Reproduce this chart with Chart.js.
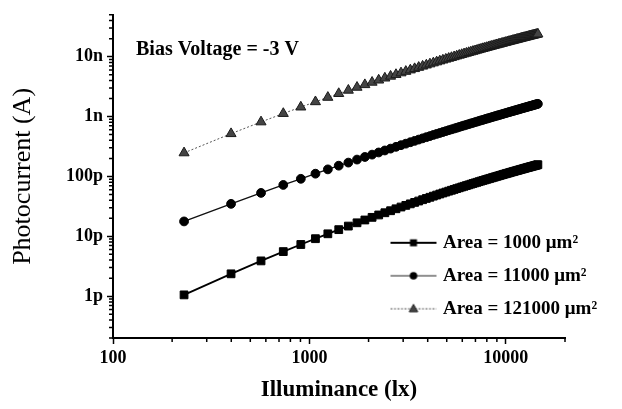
<!DOCTYPE html>
<html>
<head>
<meta charset="utf-8">
<script src="https://cdn.jsdelivr.net/npm/chart.js@4.4.1/dist/chart.umd.min.js"></script>
<style>
  body { margin: 0; background: #fff; }
  canvas { display: block; }
</style>
</head>
<body>
<canvas id="chart" width="622" height="409"></canvas>
<script>
// illuminance steps (lx)
const illuminance = [230, 399, 567, 736, 904, 1073, 1241, 1410, 1578, 1747, 1915, 2084, 2252, 2421, 2589,
  2758, 2926, 3095, 3263, 3432, 3600, 3769, 3937, 4106, 4274, 4443, 4611, 4780, 4948, 5117, 5285, 5454,
  5622, 5791, 5959, 6128, 6296, 6465, 6633, 6802, 6970, 7139, 7307, 7476, 7644, 7813, 7981, 8150, 8318,
  8487, 8655, 8824, 8992, 9161, 9329, 9498, 9666, 9835, 10003, 10172, 10340, 10509, 10677, 10846, 11014,
  11183, 11351, 11520, 11688, 11857, 12025, 12194, 12362, 12531, 12699, 12868, 13036, 13205, 13373, 13542,
  13710, 13879, 14047, 14216, 14384, 14553];

// photocurrent in pA, one list per diode area
const currentArea1000 = [1.05, 2.36, 3.88, 5.55, 7.29, 9.11, 11.0, 12.9, 14.8, 16.8, 18.7, 20.7, 22.7, 24.7,
  26.7, 28.8, 30.8, 32.8, 34.8, 36.8, 38.8, 40.8, 42.8, 44.8, 46.8, 48.8, 50.8, 52.8, 54.7, 56.7, 58.7, 60.6,
  62.6, 64.5, 66.5, 68.4, 70.3, 72.2, 74.1, 76.1, 78.0, 79.8, 81.7, 83.6, 85.5, 87.3, 89.2, 91.1, 92.9, 94.7,
  96.6, 98.4, 100.2, 102.0, 103.8, 105.6, 107.4, 109.2, 110.9, 112.7, 114.5, 116.3, 118.0, 119.8, 121.5,
  123.2, 124.9, 126.6, 128.4, 130.1, 131.8, 133.5, 135.2, 136.9, 138.6, 140.3, 141.9, 143.6, 145.3, 146.9,
  148.5, 150.2, 151.8, 153.5, 155.1, 156.7];

const currentArea11000 = [17.7, 34.8, 53.0, 72.0, 91.2, 111, 131, 151, 170, 191, 211, 231, 251, 271, 291,
  312, 332, 352, 372, 392, 412, 432, 452, 472, 492, 512, 531, 551, 571, 591, 610, 630, 649, 669, 689, 708,
  727, 747, 766, 785, 804, 824, 843, 862, 881, 900, 919, 938, 957, 975, 994, 1013, 1032, 1051, 1069, 1087,
  1106, 1125, 1143, 1162, 1180, 1199, 1217, 1235, 1253, 1271, 1289, 1307, 1326, 1344, 1362, 1380, 1398,
  1416, 1434, 1452, 1470, 1487, 1505, 1522, 1540, 1558, 1576, 1594, 1612, 1629];

const currentArea121000 = [247, 517, 812, 1122, 1438, 1763, 2087, 2416, 2744, 3073, 3400, 3729, 4055, 4381,
  4704, 5026, 5348, 5668, 5984, 6300, 6613, 6926, 7236, 7546, 7850, 8157, 8459, 8762, 9062, 9361, 9658,
  9952, 10245, 10540, 10830, 11120, 11400, 11690, 11970, 12250, 12530, 12810, 13090, 13370, 13640, 13910,
  14190, 14450, 14730, 14990, 15260, 15530, 15790, 16050, 16310, 16570, 16830, 17090, 17340, 17600, 17850,
  18110, 18350, 18610, 18850, 19100, 19350, 19600, 19840, 20090, 20330, 20570, 20810, 21050, 21290, 21520,
  21760, 21990, 22230, 22460, 22700, 22930, 23160, 23390, 23620, 23850];

const seriesLabels = ['Area = 1000 \u03bcm\u00b2', 'Area = 11000 \u03bcm\u00b2', 'Area = 121000 \u03bcm\u00b2'];

const xTickValues = [100, 1000, 10000];
const xTickLabels = ['100', '1000', '10000'];
const yTickValues = [1, 10, 100, 1000, 10000];
const yTickLabels = ['1p', '10p', '100p', '1n', '10n'];

const X_MIN = 100, X_MAX = 20000;
const Y_MIN = 0.2, Y_MAX = 50000;

const serif = '"Liberation Serif", "Times New Roman", serif';

// 1..9 x 10^n ticks inside the range
function logTicks(min, max) {
  const out = [];
  for (let d = Math.pow(10, Math.floor(Math.log10(min))); d <= max; d *= 10) {
    for (let m = 1; m <= 9; m++) {
      const v = m * d;
      if (v >= min * 0.999 && v <= max * 1.001) out.push(v);
    }
  }
  return out;
}

const isOneOf = (v, list) => list.some(t => Math.abs(v - t) / t < 1e-6);
const labelFor = (v, vals, labels) => {
  const i = vals.findIndex(t => Math.abs(v - t) / t < 1e-6);
  return i >= 0 ? labels[i] : '';
};

const pts = ys => illuminance.map((x, i) => ({ x, y: ys[i] }));

// little line+marker pictures for the legend
function legendSample(kind) {
  const c = document.createElement('canvas');
  c.width = 48; c.height = 14;
  const g = c.getContext('2d');
  g.beginPath();
  g.moveTo(1, 7); g.lineTo(47, 7);
  if (kind === 'rect') { g.strokeStyle = '#000'; g.lineWidth = 2; }
  if (kind === 'circle') { g.strokeStyle = '#222'; g.lineWidth = 1.2; }
  if (kind === 'triangle') { g.strokeStyle = '#555'; g.lineWidth = 1; g.setLineDash([2, 1.5]); }
  g.stroke();
  g.setLineDash([]);
  if (kind === 'rect') { g.fillStyle = '#000'; g.fillRect(20.5, 3.5, 7, 7); }
  if (kind === 'circle') { g.fillStyle = '#000'; g.beginPath(); g.arc(24, 7, 3.8, 0, Math.PI * 2); g.fill(); }
  if (kind === 'triangle') {
    g.fillStyle = '#444'; g.strokeStyle = '#222';
    g.beginPath(); g.moveTo(24, 2.5); g.lineTo(28.3, 10); g.lineTo(19.7, 10); g.closePath(); g.fill(); g.stroke();
  }
  return c;
}
const legendSamples = [legendSample('rect'), legendSample('circle'), legendSample('triangle')];

const placeExtras = {
  id: 'placeExtras',
  beforeDraw(chart) {
    const lg = chart.legend;
    const a = chart.chartArea;
    const w = lg.width, h = lg.height;
    lg.left = a.right - 185.5;
    lg.top = a.top + 204.5;
    lg.right = lg.left + w;
    lg.bottom = lg.top + h;
  },
  afterDraw(chart) {
    const ctx = chart.ctx;
    const a = chart.chartArea;
    ctx.save();
    // short minor tick marks
    ctx.strokeStyle = '#000';
    ctx.lineWidth = 1.5;
    ctx.beginPath();
    chart.scales.x.ticks.forEach(t => {
      if (isOneOf(t.value, xTickValues)) return;
      const px = chart.scales.x.getPixelForValue(t.value);
      ctx.moveTo(px, a.bottom); ctx.lineTo(px, a.bottom + 4);
    });
    chart.scales.y.ticks.forEach(t => {
      if (isOneOf(t.value, yTickValues)) return;
      const py = chart.scales.y.getPixelForValue(t.value);
      ctx.moveTo(a.left, py); ctx.lineTo(a.left - 4, py);
    });
    ctx.stroke();

    ctx.fillStyle = '#000';
    ctx.font = 'bold 20px ' + serif;
    ctx.textBaseline = 'middle';
    ctx.textAlign = 'left';
    ctx.fillText('Bias Voltage = -3 V', a.left + 23, 50);
    ctx.restore();
  }
};

new Chart(document.getElementById('chart'), {
  type: 'line',
  data: {
    datasets: [
      {
        label: seriesLabels[0],
        data: pts(currentArea1000),
        borderColor: '#000',
        borderWidth: 1.8,
        pointStyle: 'rect',
        pointRadius: 5.5,
        pointBackgroundColor: '#000',
        pointBorderColor: '#000',
        pointBorderWidth: 1
      },
      {
        label: seriesLabels[1],
        data: pts(currentArea11000),
        borderColor: '#111',
        borderWidth: 1.4,
        pointStyle: 'circle',
        pointRadius: 4.4,
        pointBackgroundColor: '#000',
        pointBorderColor: '#000',
        pointBorderWidth: 1
      },
      {
        label: seriesLabels[2],
        data: pts(currentArea121000),
        borderColor: '#555',
        borderWidth: 1,
        borderDash: [2, 2],
        pointStyle: 'triangle',
        pointRadius: 5.8,
        pointBackgroundColor: '#444',
        pointBorderColor: '#1a1a1a',
        pointBorderWidth: 1
      }
    ]
  },
  options: {
    responsive: false,
    animation: false,
    devicePixelRatio: 1,
    events: [],
    layout: { padding: { left: 5, right: 57, top: 12, bottom: 0 } },
    scales: {
      x: {
        type: 'logarithmic',
        min: X_MIN,
        max: X_MAX,
        afterBuildTicks: s => { s.ticks = logTicks(X_MIN, X_MAX).map(v => ({ value: v })); },
        afterFit: s => { s.height = 71; },
        ticks: {
          autoSkip: false,
          maxRotation: 0,
          padding: 4,
          color: '#000',
          font: { family: serif, size: 18, weight: 'bold' },
          callback: v => labelFor(v, xTickValues, xTickLabels)
        },
        grid: {
          drawOnChartArea: false,
          drawTicks: true,
          tickLength: 6,
          tickWidth: 1.5,
          tickColor: c => isOneOf(c.tick.value, xTickValues) ? '#000' : 'rgba(0,0,0,0)'
        },
        border: { display: true, color: '#000', width: 2 },
        title: {
          display: true,
          text: 'Illuminance (lx)',
          color: '#000',
          font: { family: serif, size: 23, weight: 'bold' },
          padding: { top: 0, bottom: 5 }
        }
      },
      y: {
        type: 'logarithmic',
        min: Y_MIN,
        max: Y_MAX,
        afterBuildTicks: s => { s.ticks = logTicks(Y_MIN, Y_MAX).map(v => ({ value: v })); },
        afterFit: s => { s.width = 108; },
        ticks: {
          autoSkip: false,
          padding: 4,
          color: '#000',
          font: { family: serif, size: 18, weight: 'bold' },
          callback: v => labelFor(v, yTickValues, yTickLabels)
        },
        grid: {
          drawOnChartArea: false,
          drawTicks: true,
          tickLength: 6,
          tickWidth: 1.5,
          tickColor: c => isOneOf(c.tick.value, yTickValues) ? '#000' : 'rgba(0,0,0,0)'
        },
        border: { display: true, color: '#000', width: 2 },
        title: {
          display: true,
          text: 'Photocurrent (A)',
          color: '#000',
          font: { family: serif, size: 26 },
          padding: { top: 3, bottom: 0 }
        }
      }
    },
    plugins: {
      tooltip: { enabled: false },
      legend: {
        position: 'chartArea',
        align: 'start',
        labels: {
          usePointStyle: true,
          pointStyleWidth: 40,
          boxHeight: 19,
          padding: 14,
          color: '#000',
          font: { family: serif, size: 19, weight: 'bold' },
          generateLabels: chart => Chart.defaults.plugins.legend.labels.generateLabels(chart)
            .map((item, i) => Object.assign(item, { pointStyle: legendSamples[i] }))
        }
      }
    }
  },
  plugins: [placeExtras]
});
</script>
</body>
</html>
